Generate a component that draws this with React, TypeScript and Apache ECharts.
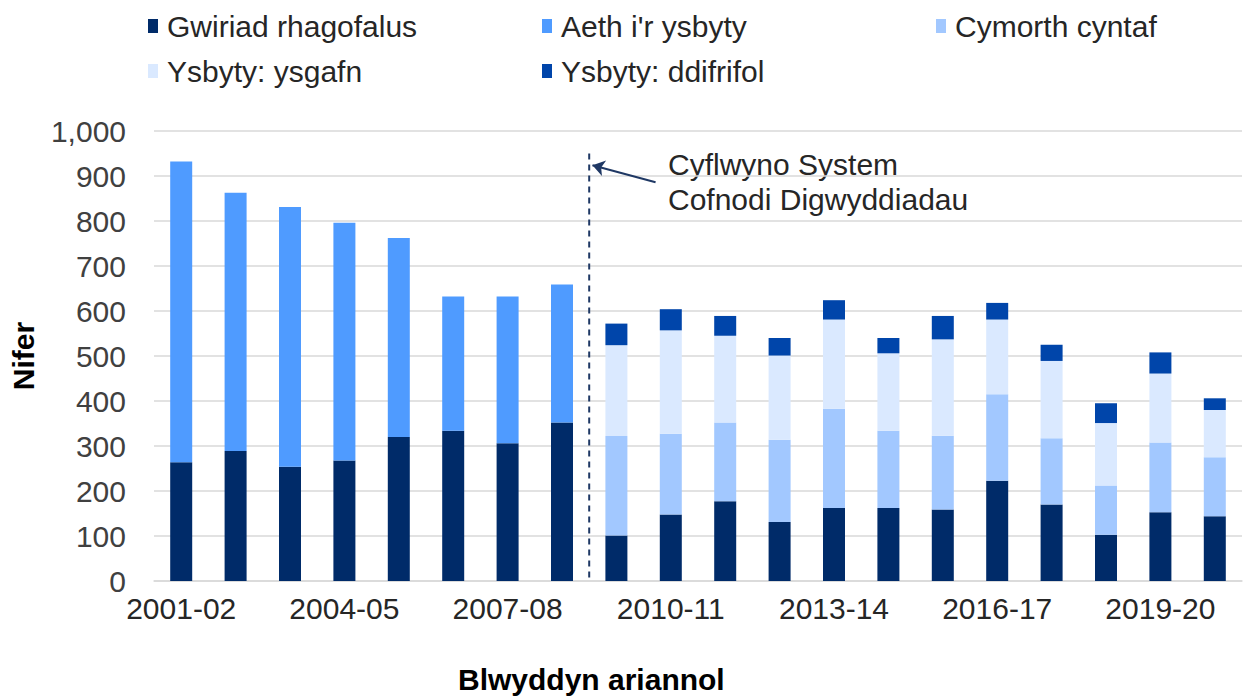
import React, { useEffect, useRef } from "react";
import * as echarts from "echarts";

const years = [
  "2001-02", "2002-03", "2003-04", "2004-05", "2005-06", "2006-07", "2007-08", "2008-09",
  "2009-10", "2010-11", "2011-12", "2012-13", "2013-14", "2014-15", "2015-16", "2016-17",
  "2017-18", "2018-19", "2019-20", "2020-21",
];

const gwiriad = [264, 289, 254, 268, 320, 334, 306, 352, 101, 148, 177, 131, 162, 162, 159, 223, 170, 103, 153, 144];
const aeth = [668, 574, 577, 528, 442, 298, 326, 307, null, null, null, null, null, null, null, null, null, null, null, null];
const cymorth = [null, null, null, null, null, null, null, null, 221, 179, 175, 183, 221, 172, 164, 192, 147, 109, 155, 131];
const ysgafn = [null, null, null, null, null, null, null, null, 202, 230, 193, 187, 198, 172, 214, 166, 172, 139, 153, 105];
const ddifrifol = [null, null, null, null, null, null, null, null, 48, 47, 44, 39, 43, 34, 52, 37, 36, 44, 47, 26];

const seriesNames = ["Gwiriad rhagofalus", "Aeth i'r ysbyty", "Cymorth cyntaf", "Ysbyty: ysgafn", "Ysbyty: ddifrifol"];
const colors = ["#002B69", "#4F9BFF", "#A2C8FF", "#DAE9FF", "#0045AA"];

// annotation: vertical break line between 2008-09 and 2009-10, with arrow
const breakX = 7.5;
const breakLine = [[breakX, 8], [breakX, 960]];
const arrowFrom = [8.72, 886];
const arrowTo = [7.56, 924];
const annotationText = "Cyflwyno System\nCofnodi Digwyddiadau";

const FONT = "'Liberation Sans', Arial, sans-serif";
const FS = 30;

export default function App() {
  const ref = useRef<HTMLDivElement>(null);
  useEffect(() => {
    if (!ref.current) return;
    const chart = echarts.init(ref.current, undefined, { renderer: "svg" });
    const dataArrays = [gwiriad, aeth, cymorth, ysgafn, ddifrifol];
    const legendPos = [
      { left: 148, top: 11 },
      { left: 542, top: 11 },
      { left: 936, top: 11 },
      { left: 148, top: 56 },
      { left: 542, top: 56 },
    ];
    const option: any = {
      animation: false,
      textStyle: { fontFamily: FONT },
      legend: seriesNames.map((n, i) => ({
        data: [n],
        left: legendPos[i].left,
        top: legendPos[i].top,
        icon: "rect",
        itemWidth: 10,
        itemHeight: 14,
        itemGap: 6,
        padding: 0,
        textStyle: { fontSize: FS, color: "#262626", fontFamily: FONT, padding: [0, 0, 0, 4] },
        selectedMode: false,
      })),
      grid: { left: 153, right: 3, top: 131, bottom: 116, containLabel: false },
      xAxis: [
        {
          type: "category",
          data: years,
          axisTick: { show: false },
          axisLine: { lineStyle: { color: "#D9D9D9", width: 1.5 } },
          axisLabel: { interval: 2, fontSize: FS, color: "#262626", margin: 12, fontFamily: FONT },
        },
        {
          type: "value",
          min: -0.5,
          max: 19.5,
          show: false,
        },
      ],
      yAxis: {
        type: "value",
        min: 0,
        max: 1000,
        interval: 100,
        name: "Nifer",
        nameLocation: "middle",
        nameRotate: 90,
        nameGap: 116,
        nameTextStyle: { fontSize: FS, fontWeight: "bold", color: "#000", fontFamily: FONT },
        axisLine: { show: false },
        axisTick: { show: false },
        axisLabel: { fontSize: FS, color: "#404040", margin: 28, fontFamily: FONT },
        splitLine: { lineStyle: { color: "#D9D9D9", width: 1.5 } },
      },
      series: [
        ...seriesNames.map((n, i) => ({
          name: n,
          type: "bar",
          stack: "total",
          barWidth: 22,
          data: dataArrays[i],
          itemStyle: { color: colors[i] },
          xAxisIndex: 0,
        })),
        {
          name: "break",
          type: "line",
          xAxisIndex: 1,
          data: breakLine,
          symbol: "none",
          lineStyle: { color: "#1F3864", width: 2, type: [6, 5] },
          silent: true,
          markLine: {
            silent: true,
            symbol: ["none", "arrow"],
            symbolSize: 12,
            label: { show: false },
            lineStyle: { type: "solid", color: "#1F3864", width: 2 },
            data: [[{ coord: arrowFrom }, { coord: arrowTo }]],
          },
        },
      ],
      graphic: [
        {
          type: "text",
          left: 668,
          top: 147,
          style: {
            text: annotationText,
            fontSize: FS,
            lineHeight: 35,
            fill: "#262626",
            fontFamily: FONT,
          },
        },
        {
          type: "text",
          left: 458,
          top: 664,
          style: {
            text: "Blwyddyn ariannol",
            fontSize: FS,
            fontWeight: "bold",
            fill: "#000",
            fontFamily: FONT,
          },
        },
      ],
    };
    chart.setOption(option);
    return () => chart.dispose();
  }, []);
  return (
    <div
      ref={ref}
      style={{ position: "absolute", left: 0, top: 0, width: 1245, height: 697, background: "#fff" }}
    />
  );
}
